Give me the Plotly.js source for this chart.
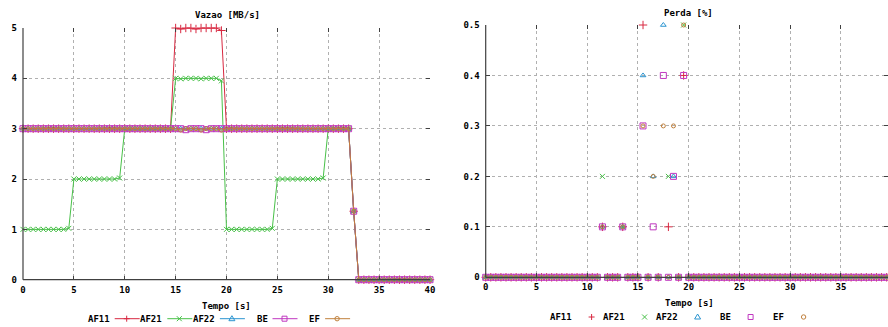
<!DOCTYPE html>
<html>
<head>
<meta charset="utf-8">
<script src="https://cdn.plot.ly/plotly-3.0.1.min.js"></script>
<style>html,body{margin:0;padding:0;background:#fff;}#chart{width:888px;height:327px;}</style>
</head>
<body>
<div id="chart"></div>
<script>
// ---------------- DATA ----------------
const seriesNames = ["AF11", "AF21", "AF22", "BE", "EF"];

const tempo = [
  0, 0.5, 1, 1.5, 2, 2.5, 3, 3.5, 4, 4.5,
  5, 5.5, 6, 6.5, 7, 7.5, 8, 8.5, 9, 9.5,
  10, 10.5, 11, 11.5, 12, 12.5, 13, 13.5, 14, 14.5,
  15, 15.5, 16, 16.5, 17, 17.5, 18, 18.5, 19, 19.5,
  20, 20.5, 21, 21.5, 22, 22.5, 23, 23.5, 24, 24.5,
  25, 25.5, 26, 26.5, 27, 27.5, 28, 28.5, 29, 29.5,
  30, 30.5, 31, 31.5, 32, 32.5, 33, 33.5, 34, 34.5,
  35, 35.5, 36, 36.5, 37, 37.5, 38, 38.5, 39, 39.5,
  40
];

// Vazao [MB/s]
const vazaoAF11 = [
  3, 3, 3, 3, 3, 3, 3, 3, 3, 3,
  3, 3, 3, 3, 3, 3, 3, 3, 3, 3,
  3, 3, 3, 3, 3, 3, 3, 3, 3, 3,
  5, 4.98, 5, 5, 4.98, 5, 5, 5, 5, 4.95,
  3, 3, 3, 3, 3, 3, 3, 3, 3, 3,
  3, 3, 3, 3, 3, 3, 3, 3, 3, 3,
  3, 3, 3, 3, 3, 1.36, 0, 0, 0, 0,
  0, 0, 0, 0, 0, 0, 0, 0, 0, 0,
  0
];
const vazaoAF21 = [
  1, 1, 1, 1, 1, 1, 1, 1, 1, 1.02,
  2, 2, 2, 2, 2, 2, 2, 2, 2, 2.02,
  3, 3, 3, 3, 3, 3, 3, 3, 3, 3,
  4, 3.99, 4, 4, 4, 3.99, 4, 4, 4, 3.95,
  1, 1, 1, 1, 1, 1, 1, 1, 1, 1.02,
  2, 2, 2, 2, 2, 2, 2, 2, 2, 2.02,
  3, 3, 3, 3, 3, 1.36, 0, 0, 0, 0,
  0, 0, 0, 0, 0, 0, 0, 0, 0, 0,
  0
];
const vazaoAF22 = [
  3, 3, 3, 3, 3, 3, 3, 3, 3, 3,
  3, 3, 3, 3, 3, 3, 3, 3, 3, 3,
  3, 3, 3, 3, 3, 3, 3, 3, 3, 3,
  3, 3, 3, 3, 3, 3, 3, 3, 3, 3,
  3, 3, 3, 3, 3, 3, 3, 3, 3, 3,
  3, 3, 3, 3, 3, 3, 3, 3, 3, 3,
  3, 3, 3, 3, 3, 1.36, 0, 0, 0, 0,
  0, 0, 0, 0, 0, 0, 0, 0, 0, 0,
  0
];
const vazaoBE = [
  3, 3, 3, 3, 3, 3, 3, 3, 3, 3,
  3, 3, 3, 3, 3, 3, 3, 3, 3, 3,
  3, 3, 3, 3, 3, 3, 3, 3, 3, 3,
  3, 3, 2.98, 3, 3, 3, 2.98, 3, 3, 3,
  3, 3, 3, 3, 3, 3, 3, 3, 3, 3,
  3, 3, 3, 3, 3, 3, 3, 3, 3, 3,
  3, 3, 3, 3, 3, 1.36, 0, 0, 0, 0,
  0, 0, 0, 0, 0, 0, 0, 0, 0, 0,
  0
];
const vazaoEF = [
  3, 3, 3, 3, 3, 3, 3, 3, 3, 3,
  3, 3, 3, 3, 3, 3, 3, 3, 3, 3,
  3, 3, 3, 3, 3, 3, 3, 3, 3, 3,
  3, 2.97, 3, 3, 3, 2.97, 3, 3, 3, 2.97,
  3, 3, 3, 3, 3, 3, 3, 3, 3, 3,
  3, 3, 3, 3, 3, 3, 3, 3, 3, 3,
  3, 3, 3, 3, 3, 1.36, 0, 0, 0, 0,
  0, 0, 0, 0, 0, 0, 0, 0, 0, 0,
  0
];

// Perda [%]  (null = above the visible 0..0.5 range)
const perdaAF11 = [
  0, 0, 0, 0, 0, 0, 0, 0, 0, 0,
  0, 0, 0, 0, 0, 0, 0, 0, 0, 0,
  0, 0, 0, 0.1, 0, 0, 0, 0.1, 0, 0,
  0, 0.5, 0, null, 0, null, 0.1, null, 0, 0.4,
  0, 0, 0, 0, 0, 0, 0, 0, 0, 0,
  0, 0, 0, 0, 0, 0, 0, 0, 0, 0,
  0, 0, 0, 0, 0, 0, 0, 0, 0, 0,
  0, 0, 0, 0, 0, 0, 0, 0, 0, 0,
  0
];
const perdaAF21 = [
  0, 0, 0, 0, 0, 0, 0, 0, 0, 0,
  0, 0, 0, 0, 0, 0, 0, 0, 0, 0,
  0, 0, 0, 0.2, 0, 0, 0, 0.1, 0, 0,
  0, null, 0, null, 0, null, 0.2, null, 0, 0.5,
  0, 0, 0, 0, 0, 0, 0, 0, 0, 0,
  0, 0, 0, 0, 0, 0, 0, 0, 0, 0,
  0, 0, 0, 0, 0, 0, 0, 0, 0, 0,
  0, 0, 0, 0, 0, 0, 0, 0, 0, 0,
  0
];
const perdaAF22 = [
  0, 0, 0, 0, 0, 0, 0, 0, 0, 0,
  0, 0, 0, 0, 0, 0, 0, 0, 0, 0,
  0, 0, 0, 0.1, 0, 0, 0, 0.1, 0, 0,
  0, 0.4, 0, 0.2, 0, 0.5, 0, 0.2, 0, null,
  0, 0, 0, 0, 0, 0, 0, 0, 0, 0,
  0, 0, 0, 0, 0, 0, 0, 0, 0, 0,
  0, 0, 0, 0, 0, 0, 0, 0, 0, 0,
  0, 0, 0, 0, 0, 0, 0, 0, 0, 0,
  0
];
const perdaBE = [
  0, 0, 0, 0, 0, 0, 0, 0, 0, 0,
  0, 0, 0, 0, 0, 0, 0, 0, 0, 0,
  0, 0, 0, 0.1, 0, 0, 0, 0.1, 0, 0,
  0, 0.3, 0, 0.1, 0, 0.4, 0, 0.2, 0, 0.4,
  0, 0, 0, 0, 0, 0, 0, 0, 0, 0,
  0, 0, 0, 0, 0, 0, 0, 0, 0, 0,
  0, 0, 0, 0, 0, 0, 0, 0, 0, 0,
  0, 0, 0, 0, 0, 0, 0, 0, 0, 0,
  0
];
const perdaEF = [
  0, 0, 0, 0, 0, 0, 0, 0, 0, 0,
  0, 0, 0, 0, 0, 0, 0, 0, 0, 0,
  0, 0, 0, 0.1, 0, 0, 0, 0.1, 0, 0,
  0, 0.3, 0, 0.2, 0, 0.3, 0, 0.3, 0, 0.5,
  0, 0, 0, 0, 0, 0, 0, 0, 0, 0,
  0, 0, 0, 0, 0, 0, 0, 0, 0, 0,
  0, 0, 0, 0, 0, 0, 0, 0, 0, 0,
  0, 0, 0, 0, 0, 0, 0, 0, 0, 0,
  0
];

const titleLeft = "Vazao [MB/s]";
const titleRight = "Perda [%]";
const xTitle = "Tempo [s]";

// ---------------- STYLE ----------------
const colors = ["#d82840", "#48c048", "#2a94d0", "#c038c0", "#c0803c"];
const symbols = ["cross-thin-open", "x-thin-open", "triangle-up-open", "square-open", "circle-open"];
const markerSizes = [6, 5, 5, 6, 4];
const glyphKinds = ["cross", "x", "tri", "square", "circle"];
const vazao = [vazaoAF11, vazaoAF21, vazaoAF22, vazaoBE, vazaoEF];
const perda = [perdaAF11, perdaAF21, perdaAF22, perdaBE, perdaEF];

const W = 888, H = 327;
const px = x => x / W;
const py = y => 1 - y / H;
const FONT = {family: "DejaVu Sans Mono", size: 9, color: "#000", weight: "bold"};

const traces = [];
for (let i = 0; i < 5; i++) {
  traces.push({
    x: tempo, y: vazao[i], type: "scatter", mode: "lines+markers",
    name: seriesNames[i], xaxis: "x", yaxis: "y", cliponaxis: false,
    line: {color: colors[i], width: 1},
    marker: {symbol: symbols[i], size: markerSizes[i], color: colors[i], line: {color: colors[i], width: 1}},
    showlegend: false, hoverinfo: "skip"
  });
}
for (let i = 0; i < 5; i++) {
  traces.push({
    x: tempo, y: perda[i], type: "scatter", mode: "markers",
    name: seriesNames[i], xaxis: "x2", yaxis: "y2", cliponaxis: false,
    marker: {symbol: symbols[i], size: markerSizes[i], color: colors[i], line: {color: colors[i], width: 1}},
    showlegend: false, hoverinfo: "skip"
  });
}

const axisCommon = {
  showgrid: true, gridcolor: "#b0b0b0", griddash: "dot", gridwidth: 1,
  zeroline: false, showline: false, ticks: "inside", ticklen: 4, tickcolor: "#404040",
  mirror: "ticks", tickfont: FONT, automargin: false, fixedrange: true
};

const L = {x0: 23, x1: 430, yTop: 28, yBot: 279.7};
const R = {x0: 485.7, x1: 888, yTop: 25, yBot: 277.3, scale: 10.15};

const layout = {
  width: W, height: H,
  margin: {l: 0, r: 0, t: 0, b: 0},
  paper_bgcolor: "#fff", plot_bgcolor: "#fff",
  showlegend: false,
  xaxis: Object.assign({}, axisCommon, {domain: [px(L.x0), px(L.x1)], range: [0, 40], dtick: 5, tick0: 0, anchor: "y", ticklabelstandoff: 3}),
  yaxis: Object.assign({}, axisCommon, {domain: [py(L.yBot), py(L.yTop)], range: [0, 5], dtick: 1, tick0: 0, anchor: "x", ticklabelstandoff: 5}),
  xaxis2: Object.assign({}, axisCommon, {domain: [px(R.x0), 1], range: [0, (R.x1 - R.x0) / R.scale], dtick: 5, tick0: 0, anchor: "y2", ticklabelstandoff: 3}),
  yaxis2: Object.assign({}, axisCommon, {domain: [py(R.yBot), py(R.yTop)], range: [0, 0.5], dtick: 0.1, tick0: 0, anchor: "x2", ticklabelstandoff: 5}),
  annotations: [],
  shapes: []
};

function ann(text, x, y, xanchor) {
  layout.annotations.push({text: text, x: px(x), y: py(y), xref: "paper", yref: "paper",
    xanchor: xanchor || "center", yanchor: "middle", showarrow: false, font: FONT});
}
ann(titleLeft, 227, 15);
ann(titleRight, 688.5, 13);
ann(xTitle, 226.7, 305.5);
ann(xTitle, 689, 303);

// axis border lines (left + bottom only)
function pline(x0, y0, x1, y1, color, w) {
  layout.shapes.push({type: "line", xref: "paper", yref: "paper", x0: px(x0), y0: py(y0), x1: px(x1), y1: py(y1),
    line: {color: color, width: w || 1}});
}
pline(L.x0, L.yTop, L.x0, L.yBot, "#404040", 1.2);
pline(L.x0, L.yBot, L.x1, L.yBot, "#404040", 1.2);
pline(R.x0, R.yTop, R.x0, R.yBot, "#404040", 1.2);
pline(R.x0, R.yBot, R.x1, R.yBot, "#404040", 1.2);

function glyph(kind, cx, cy, color) {
  const s = 2.5;
  if (kind === "cross") { pline(cx - 3, cy, cx + 3, cy, color); pline(cx, cy - 3, cx, cy + 3, color); }
  else if (kind === "x") { pline(cx - s, cy - s, cx + s, cy + s, color); pline(cx - s, cy + s, cx + s, cy - s, color); }
  else if (kind === "tri") {
    layout.shapes.push({type: "path", xref: "paper", yref: "paper",
      path: `M ${px(cx)},${py(cy - 3)} L ${px(cx + 3)},${py(cy + 2)} L ${px(cx - 3)},${py(cy + 2)} Z`,
      line: {color: color, width: 1}});
  } else if (kind === "square") {
    layout.shapes.push({type: "rect", xref: "paper", yref: "paper", x0: px(cx - s), x1: px(cx + s), y0: py(cy + s), y1: py(cy - s), line: {color: color, width: 1}});
  } else {
    layout.shapes.push({type: "circle", xref: "paper", yref: "paper", x0: px(cx - 2.2), x1: px(cx + 2.2), y0: py(cy + 2.2), y1: py(cy - 2.2), line: {color: color, width: 1}});
  }
}

// left legend: text, then line with marker
for (let i = 0; i < 5; i++) {
  const te = 111.7 + 52.6 * i, ly = 318.7;
  ann(seriesNames[i], te, ly, "right");
  pline(te + 3, ly, te + 28, ly, colors[i]);
  glyph(glyphKinds[i], te + 15, ly, colors[i]);
}
// right legend: text, then marker only
for (let i = 0; i < 5; i++) {
  const te = 574 + 53 * i, ly = 317;
  ann(seriesNames[i], te, ly, "right");
  glyph(glyphKinds[i], te + 17.6, ly, colors[i]);
}

Plotly.newPlot("chart", traces, layout, {displayModeBar: false, staticPlot: true});
</script>
</body>
</html>
